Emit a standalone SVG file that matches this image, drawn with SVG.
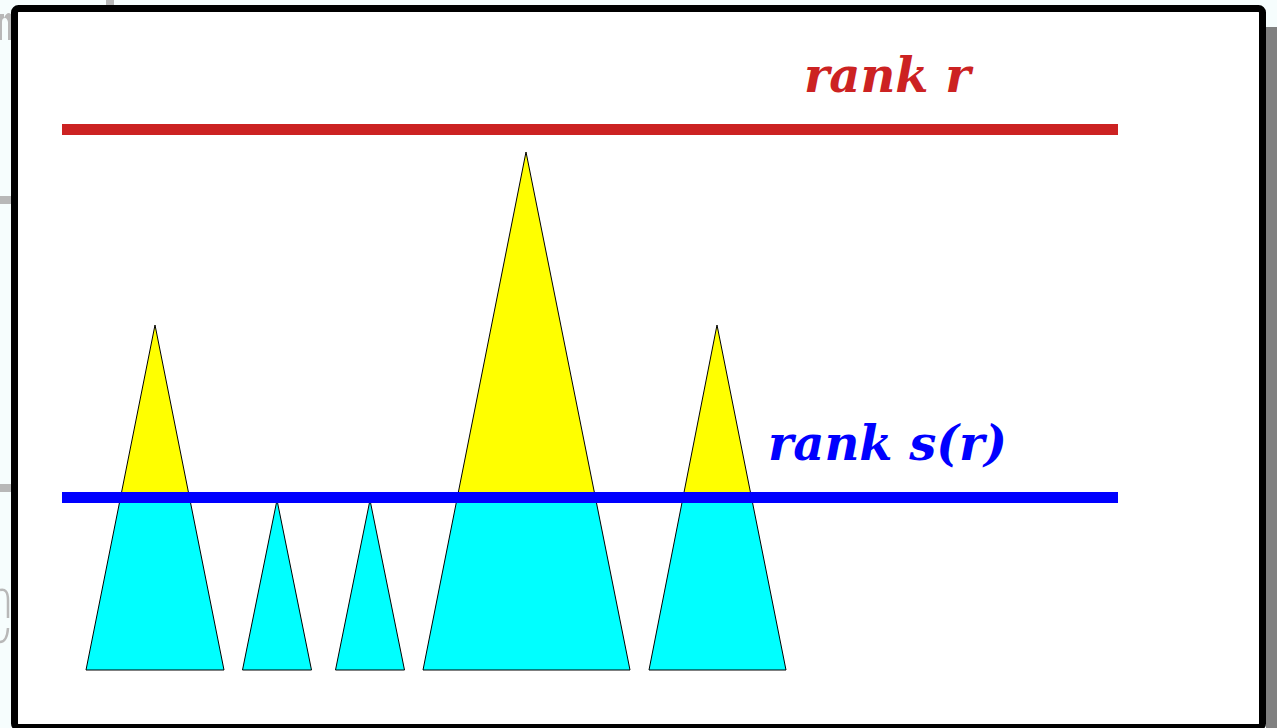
<svg xmlns="http://www.w3.org/2000/svg" width="1277" height="728" viewBox="0 0 1277 728">
  <style>
    .tri { stroke: #000; stroke-width: 1; stroke-linejoin: miter; }
    .yel { fill: #ffff00; }
    .cyn { fill: #00ffff; }
    .lbl { font-family: "DejaVu Serif", "Liberation Serif", serif; font-weight: bold; font-style: italic; font-size: 48px; }
    .frag { fill: #b8b8b8; }
  </style>
  <g id="background">
    <rect x="0" y="0" width="1277" height="728" fill="#f6fdfd"/>
    <path class="frag" d="M0,14 L4,14 L4,18 Q6,13 9,13 L11,14 L11,40 L8,40 L8,22 Q7,18 5,18 Q2,18 2,22 L2,40 L0,40 Z"/>
    <rect class="frag" x="106" y="0" width="8" height="5"/>
    <rect class="frag" x="0" y="196" width="11" height="8"/>
    <rect class="frag" x="0" y="484" width="11" height="8"/>
    <path d="M0,590 Q8,588 8,600 L8,618" fill="none" stroke="#b8b8b8" stroke-width="2.5"/>
    <path d="M8,628 Q7,642 0,642" fill="none" stroke="#b8b8b8" stroke-width="2.5"/>
    <rect x="1266" y="27" width="11" height="701" fill="#808080"/>
  </g>
  <g id="frame">
    <rect x="14.5" y="8.5" width="1248" height="719" rx="4" fill="#ffffff" stroke="#000000" stroke-width="7"/>
  </g>
  <g id="tree1">
    <polygon class="tri yel" points="155,325 189.4,497 120.6,497"/>
    <polygon class="tri cyn" points="120.6,497 189.4,497 224,670 86,670"/>
  </g>
  <g id="tree2">
    <polygon class="tri cyn" points="277,500 311.5,670 242.5,670"/>
  </g>
  <g id="tree3">
    <polygon class="tri cyn" points="370,500 404.5,670 335.5,670"/>
  </g>
  <g id="tree4">
    <polygon class="tri yel" points="526,152 595.3,497 457.4,497"/>
    <polygon class="tri cyn" points="457.4,497 595.3,497 630,670 423,670"/>
  </g>
  <g id="tree5">
    <polygon class="tri yel" points="717,325 751.4,497 683.1,497"/>
    <polygon class="tri cyn" points="683.1,497 751.4,497 786,670 649,670"/>
  </g>
  <g id="connectors">
    <rect id="rank-r-line" x="62" y="124" width="1056" height="11" fill="#cc2222"/>
    <rect id="rank-sr-line" x="62" y="492" width="1056" height="11" fill="#0000ff"/>
  </g>
  <g id="label-rank-r">
    <text class="lbl" x="804" y="92" fill="#cc2222">rank r</text>
  </g>
  <g id="label-rank-sr">
    <text class="lbl" x="768" y="460" fill="#0000ff">rank s(r)</text>
  </g>
</svg>
